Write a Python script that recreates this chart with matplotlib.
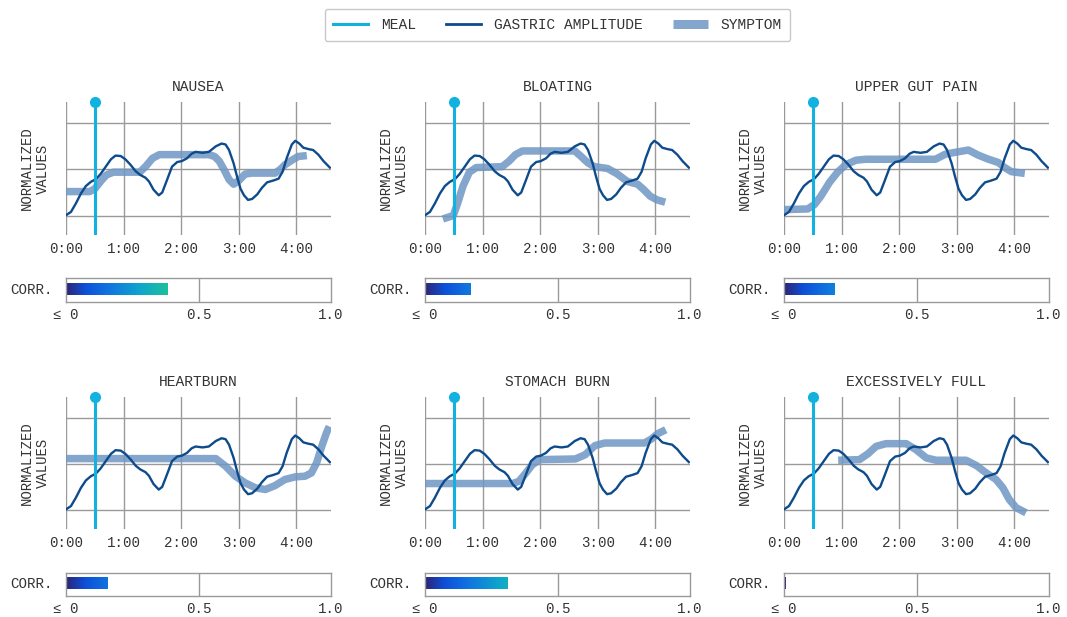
import numpy as np
import matplotlib
matplotlib.use('Agg')
import matplotlib.pyplot as plt
from matplotlib.colors import LinearSegmentedColormap
from matplotlib.lines import Line2D

plt.rcParams['font.family'] = ['Liberation Mono', 'DejaVu Sans Mono']
plt.rcParams['text.color'] = '#333333'

# gastric amplitude, shared by every panel (hours, normalized)
gastric_t = [0, 0.086, 0.17, 0.26, 0.345, 0.43, 0.52, 0.60, 0.69, 0.78, 0.86, 0.95, 1.03, 1.12,
             1.21, 1.29, 1.38, 1.44, 1.52, 1.61, 1.67, 1.75, 1.84, 1.93, 2.01, 2.10, 2.18, 2.25,
             2.37, 2.48, 2.60, 2.70, 2.77, 2.83, 2.91, 2.97, 3.03, 3.09, 3.16, 3.23, 3.32, 3.40,
             3.49, 3.60, 3.69, 3.76, 3.83, 3.92, 3.98, 4.05, 4.12, 4.21, 4.29, 4.38, 4.47, 4.58]
gastric_v = [0.004, 0.04, 0.13, 0.24, 0.32, 0.365, 0.395, 0.45, 0.53, 0.61, 0.65, 0.645, 0.61, 0.55,
             0.48, 0.44, 0.41, 0.37, 0.28, 0.22, 0.25, 0.38, 0.53, 0.58, 0.59, 0.62, 0.67, 0.69,
             0.68, 0.69, 0.75, 0.78, 0.77, 0.71, 0.565, 0.42, 0.29, 0.22, 0.17, 0.18, 0.23, 0.30,
             0.36, 0.38, 0.40, 0.475, 0.62, 0.77, 0.81, 0.78, 0.735, 0.72, 0.71, 0.66, 0.59, 0.52]

meal_time = 0.5

symptoms = ['NAUSEA', 'BLOATING', 'UPPER GUT PAIN', 'HEARTBURN', 'STOMACH BURN', 'EXCESSIVELY FULL']

nausea_t = [0, 0.41, 0.5, 0.6, 0.7, 0.82, 1.28, 1.38, 1.5, 1.62, 2.48, 2.58, 2.66, 2.75, 2.83,
            2.91, 3.0, 3.11, 3.23, 3.63, 3.72, 3.8, 3.92, 4.03, 4.18]
nausea_v = [0.26, 0.26, 0.29, 0.37, 0.44, 0.47, 0.47, 0.53, 0.62, 0.66, 0.66, 0.64, 0.59, 0.49, 0.39,
            0.34, 0.38, 0.45, 0.46, 0.46, 0.5, 0.55, 0.6, 0.64, 0.65]

bloating_t = [0.31, 0.49, 0.57, 0.66, 0.77, 0.89, 1.34, 1.46, 1.57, 1.69, 2.6, 2.71, 2.83, 2.94,
              3.17, 3.34, 3.51, 3.69, 3.8, 3.91, 4.03, 4.17]
bloating_v = [-0.036, 0, 0.14, 0.32, 0.47, 0.52, 0.53, 0.59, 0.66, 0.70, 0.70, 0.64, 0.57, 0.53,
              0.51, 0.45, 0.37, 0.34, 0.28, 0.21, 0.17, 0.145]

gut_t = [0, 0.41, 0.53, 0.64, 0.79, 0.93, 1.07, 1.25, 1.42, 2.63, 2.8, 2.97, 3.2, 3.37, 3.55,
         3.72, 3.83, 3.95, 4.18]
gut_v = [0.065, 0.072, 0.12, 0.21, 0.36, 0.47, 0.55, 0.6, 0.61, 0.61, 0.665, 0.685, 0.71, 0.655,
         0.61, 0.575, 0.52, 0.475, 0.457]

heartburn_t = [0, 2.6, 2.77, 2.94, 3.11, 3.29, 3.46, 3.63, 3.8, 3.98, 4.15, 4.26, 4.35, 4.44,
               4.52, 4.57]
heartburn_v = [0.558, 0.558, 0.475, 0.366, 0.293, 0.239, 0.221, 0.264, 0.33, 0.359, 0.366, 0.402,
               0.51, 0.692, 0.837, 0.909]

burn_t = [0, 1.52, 1.63, 1.75, 1.86, 2.0, 2.61, 2.78, 2.95, 3.12, 3.81, 3.93, 4.04, 4.18]
burn_v = [0.286, 0.286, 0.31, 0.40, 0.49, 0.547, 0.554, 0.60, 0.70, 0.728, 0.728, 0.772, 0.83, 0.873]

full_t = [0.94, 1.31, 1.46, 1.6, 1.77, 2.12, 2.29, 2.47, 2.64, 3.16, 3.34, 3.51, 3.68, 3.8, 3.91,
          4.03, 4.2]
full_v = [0.54, 0.547, 0.612, 0.692, 0.721, 0.721, 0.656, 0.565, 0.54, 0.54, 0.482, 0.402, 0.33,
          0.239, 0.112, 0.022, -0.033]

symptom_t = [nausea_t, bloating_t, gut_t, heartburn_t, burn_t, full_t]
symptom_v = [nausea_v, bloating_v, gut_v, heartburn_v, burn_v, full_v]

corr = [0.384, 0.17, 0.19, 0.157, 0.31, 0.004]

hour_ticks = [0, 1, 2, 3, 4]
hour_labels = ['0:00', '1:00', '2:00', '3:00', '4:00']
corr_ticks = [0, 0.5, 1.0]
corr_labels = ['≤ 0', '0.5', '1.0']

MEAL_C = '#12b2e0'
GASTRIC_C = '#0d4b8c'
SYMPTOM_C = '#6f96c4'
GRID_C = '#9a9a9a'

cmap = LinearSegmentedColormap.from_list('corr', [
    (0.0, '#2d2576'), (0.07, '#0d4fd8'), (0.15, '#1070e0'), (0.28, '#0ea6cc'),
    (0.38, '#1cbf9e'), (1.0, '#b5e05a')])

W, H = 1067, 617
fig = plt.figure(figsize=(W / 100, H / 100), dpi=100)

lefts = [66, 425, 784]
rows = [(102, 235, 278, 302), (397, 529, 573, 596)]
YMIN, YMAX = -0.21, 1.23

for i, name in enumerate(symptoms):
    r, c = divmod(i, 3)
    top, bot, ctop, cbot = rows[r]
    x0 = lefts[c]
    ax = fig.add_axes([x0 / W, 1 - bot / H, 265 / W, (bot - top) / H])
    ax.set_xlim(0, 4.6)
    ax.set_ylim(YMIN, YMAX)
    for s in ax.spines.values():
        s.set_visible(False)
    ax.set_xticks(hour_ticks)
    ax.set_xticklabels(hour_labels, fontsize=10.2, color='#333333')
    ax.set_yticks([0, 0.5, 1.0])
    ax.tick_params(length=0, pad=5, labelleft=False)
    ax.grid(True, color=GRID_C, lw=1)
    ax.set_axisbelow(True)

    ax.plot(symptom_t[i], symptom_v[i], color=SYMPTOM_C, lw=5.4, alpha=0.85,
            solid_capstyle='butt', solid_joinstyle='round', zorder=2)
    ax.plot(gastric_t, gastric_v, color=GASTRIC_C, lw=1.7, zorder=3,
            solid_joinstyle='round')
    ax.axvline(meal_time, color=MEAL_C, lw=2.2, zorder=4)
    ax.plot(meal_time, YMAX, 'o', color=MEAL_C, ms=7, clip_on=False, zorder=5)

    ax.text(0.5, 1 + 15 / (bot - top), name, transform=ax.transAxes, ha='center',
            va='center', fontsize=10.5)
    ax.text(-31 / 265, 0.5, 'NORMALIZED\nVALUES', transform=ax.transAxes, rotation=90,
            ha='center', va='center', fontsize=10, linespacing=1.15)

    cax = fig.add_axes([x0 / W, 1 - cbot / H, 265 / W, (cbot - ctop) / H])
    for s in cax.spines.values():
        s.set_color(GRID_C)
        s.set_linewidth(1)
    grad = np.linspace(0, corr[i], 256).reshape(1, -1)
    cax.imshow(grad, cmap=cmap, vmin=0, vmax=1, aspect='auto',
               extent=[0, max(corr[i], 0.004), 0.29, 0.79], zorder=2)
    cax.set_xlim(0, 1)
    cax.set_ylim(0, 1)
    cax.axvline(0.5, color=GRID_C, lw=1, zorder=1)
    cax.set_xticks(corr_ticks)
    cax.set_xticklabels(corr_labels, fontsize=10.2, color='#333333')
    cax.set_yticks([])
    cax.tick_params(length=0, pad=4)
    cax.text(-13 / 265, 0.5, 'CORR.', transform=cax.transAxes, ha='right', va='center',
             fontsize=10.2)

handles = [Line2D([], [], color=MEAL_C, lw=2.2),
           Line2D([], [], color=GASTRIC_C, lw=2),
           Line2D([], [], color=SYMPTOM_C, lw=6.5, alpha=0.85, solid_capstyle='butt')]
leg = fig.legend(handles, ['MEAL', 'GASTRIC AMPLITUDE', 'SYMPTOM'], loc='center',
                 bbox_to_anchor=(557.5 / W, 1 - 25 / H), ncol=3, fontsize=10.5,
                 handlelength=2.4, handletextpad=0.85, columnspacing=2.1,
                 frameon=True, fancybox=True, edgecolor='#bbbbbb', borderpad=0.6)
leg.get_frame().set_linewidth(1)

fig.savefig('out.png', dpi=100)
